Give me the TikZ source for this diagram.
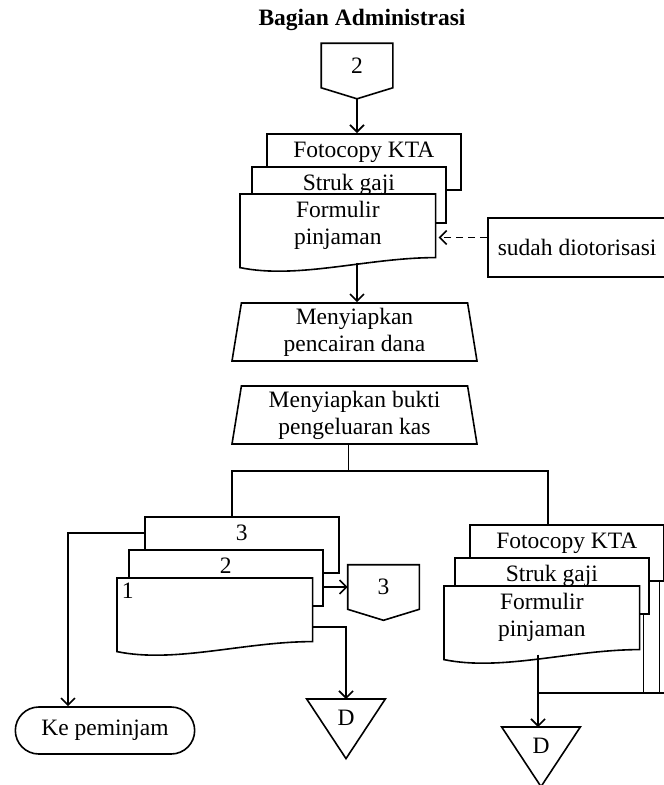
\documentclass[tikz,border=0pt]{standalone}
\usepackage{fontspec}
\setmainfont{Liberation Serif}
\usetikzlibrary{arrows.meta}
\usetikzlibrary{shapes.geometric, shapes.misc}
\usetikzlibrary{positioning, calc}
\tikzset{basic/.style={font=\fontsize{23.5}{27}\selectfont, line width=1.6pt}}
\tikzset{backdoc/.style={draw, fill=white, anchor=north west, minimum width=194pt, inner ysep=0pt, text height=24pt, text depth=32pt}}
\tikzset{frontdoc/.style={anchor=north west, minimum width=194pt, minimum height=62pt, align=center, inner sep=0pt,
    append after command={\pgfextra{\let\docnode\tikzlastnode
      \draw[fill=white] (\docnode.north west) -- (\docnode.north east) -- (\docnode.south east)
        .. controls ([xshift=-68pt]\docnode.south east) and ([xshift=58pt,yshift=-22pt]\docnode.south west)
        .. ([yshift=-10pt]\docnode.south west) -- cycle;}}}}
\tikzset{offpage/.style={minimum width=70pt, minimum height=43pt, inner sep=0pt,
    append after command={\pgfextra{\let\pgnode\tikzlastnode
      \draw (\pgnode.north west) -- (\pgnode.north east) -- (\pgnode.south east)
        -- ([yshift=-11pt]\pgnode.south) -- (\pgnode.south west) -- cycle;}}}}
\tikzset{merge/.style={anchor=north, minimum width=77pt, inner sep=0pt, text height=25.5pt, text depth=32.5pt,
    append after command={\pgfextra{\let\mgnode\tikzlastnode
      \draw (\mgnode.north west) -- (\mgnode.north east) -- (\mgnode.south) -- cycle;}}}}
\tikzset{trap/.style={draw, trapezium, trapezium left angle=79, trapezium right angle=79, trapezium stretches body,
    minimum width=245pt, minimum height=58pt, align=center, inner sep=0pt}}
\tikzset{term/.style={draw, rounded rectangle, minimum width=186pt, minimum height=47pt}}
\tikzset{note/.style={draw, anchor=west, minimum height=59pt, inner xsep=10pt}}

\begin{document}
\begin{tikzpicture}[
    x=1pt, y=-1pt,
    > = {Straight Barb[length=7pt, width=14pt]}, % arrow head style
    basic
    ]
    \useasboundingbox (0,0) rectangle (664,785);

    \node[font=\bfseries\fontsize{23.5}{27}\selectfont] (title) at (362,20) {Bagian Administrasi};
    \node[offpage] (c2) at (357,65.5) {2};

    % dokumen masuk
    \node[backdoc] (fk1) at (266,133) {Fotocopy KTA};
    \node[backdoc] (sg1) at (251,166) {Struk gaji};
    \node[frontdoc] (fp1) at (240,194) {Formulir\\pinjaman};
    \node[note] (auth) at (487,247.5) {sudah diotorisasi};

    \node[trap] (mp1) at (354.5,332) {Menyiapkan\\pencairan dana};
    \node[trap] (mp2) at (354.5,415) {Menyiapkan bukti\\pengeluaran kas};

    % bukti pengeluaran kas
    \node[backdoc] (bk3) at (144,516) {3};
    \node[backdoc] (bk2) at (128,549) {2};
    \node[frontdoc, label={[anchor=north west, inner sep=4pt]north west:1}] (bk1) at (117,578) {};
    \node[offpage] (c3) at (383.5,587) {3};
    \node[term] (kp) at (105,730.5) {Ke peminjam};
    \node[merge] (arsip1) at (346,699) {D};

    % arsip dokumen
    \node[backdoc] (fk2) at (469,524) {Fotocopy KTA};
    \node[backdoc] (sg2) at (454,557) {Struk gaji};
    \node[frontdoc] (fp2) at (444,586) {Formulir\\pinjaman};
    \node[merge] (arsip2) at (541,727) {D};

    \coordinate (jl) at (232,471);
    \coordinate (jr) at (548,471);
    \coordinate (rj) at (538,693);

    % Alur utama
    \draw[->] ([yshift=-11pt]c2.south) -- (c2.south |- fk1.north);
    \draw[->, dash pattern=on 7pt off 5pt] ([yshift=10pt]auth.west) -- ([yshift=10pt,xshift=3pt]auth.west -| fp1.east);
    \draw[->] ([yshift=-5pt]fp1.south -| c2.south) -- (c2.south |- mp1.north);
    \draw ([xshift=-6pt]mp2.south) -- ([xshift=-6pt]mp2.south |- jl);
    \draw (jl |- bk3.north) -- (jl) -- (jr) -- (jr |- fk2.north);

    % Cabang kiri
    \draw[->] ([yshift=-17pt]bk3.north west) -| ([xshift=-37pt]kp.north);
    \draw[->] (bk2.east |- c3.west) -- (c3.west);
    \draw[->] ([yshift=-49pt]bk1.north east) -| (arsip1.north);

    % Cabang kanan
    \draw ([xshift=-5pt]fk2.south east) -- ([xshift=-5pt]fk2.south east |- rj) -- ([xshift=2pt]fk2.south east |- rj) -- (rj);
    \draw ([xshift=-6pt]sg2.south east) -- ([xshift=-6pt]sg2.south east |- rj);
    \draw[->] ([yshift=-5pt]fp2.south -| rj) -- (rj) -- (rj |- arsip2.north);
\end{tikzpicture}
\end{document}
